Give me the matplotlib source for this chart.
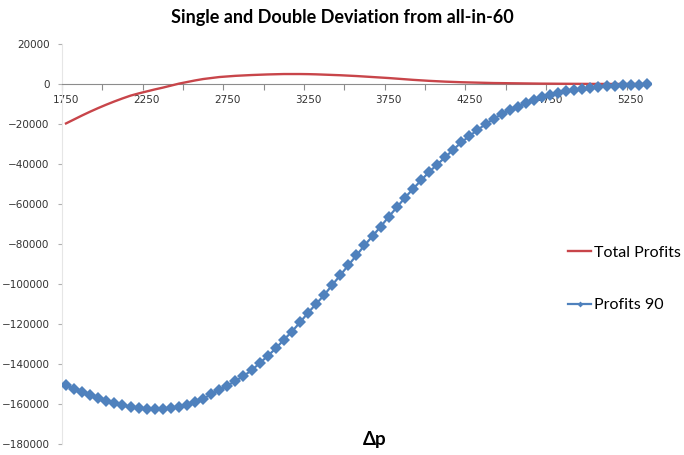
import numpy as np
import matplotlib
matplotlib.use('Agg')
import matplotlib.pyplot as plt
from matplotlib.ticker import FixedLocator

# delta p categories (step 50)
dp = np.arange(1750, 5351, 50)

total_profits = [-19700, -17700, -15700, -13800, -12000, -10300, -8700, -7200, -5800, -4700,
                 -3700, -2700, -1800, -800, 200, 1000, 1800, 2500, 3000, 3500,
                 3800, 4100, 4300, 4500, 4650, 4800, 4900, 5000, 5000, 5000,
                 4950, 4850, 4700, 4550, 4400, 4200, 4000, 3750, 3500, 3250,
                 3000, 2700, 2400, 2100, 1850, 1600, 1400, 1200, 1050, 900,
                 800, 700, 600, 500, 450, 400, 350, 300, 250, 200,
                 180, 150, 130, 110, 90, 70, 60, 50, 40, 30,
                 20, 10, 0]

profits_90 = [-150500, -152500, -154000, -155700, -157200, -158700, -159700, -160700, -161500, -162200,
              -162500, -162700, -162500, -162200, -161300, -160300, -159000, -157500, -155000, -153000,
              -150800, -148500, -146000, -143200, -139600, -136000, -132200, -127900, -123800, -119200,
              -114400, -110000, -105500, -100500, -95600, -90600, -85700, -80700, -76000, -71300,
              -66400, -61700, -56900, -52500, -48200, -44000, -40300, -36600, -32800, -29200,
              -26000, -23000, -20100, -17400, -15000, -13000, -11300, -9600, -7900, -6500,
              -5300, -4400, -3600, -2900, -2400, -1900, -1500, -1100, -800, -600,
              -400, -250, -150]

x_labels = [str(v) for v in range(1750, 5251, 500)]

red = '#C8454A'
blue = '#4F81BD'

fig = plt.figure(figsize=(6.84, 4.55), dpi=100)
ax = fig.add_axes([0.0906, 0.0242, 0.861, 0.879])

l1, = ax.plot(dp, total_profits, color=red, lw=1.7, zorder=3)
l2, = ax.plot(dp, profits_90, color=blue, lw=1.6, marker='D', ms=6,
              markeredgewidth=0, zorder=4)

ax.set_xlim(1725, 5375)
ax.set_ylim(-180000, 20000)

# category axis crosses at zero
ax.spines['bottom'].set_position(('data', 0))
ax.spines['bottom'].set_color('#8c8c8c')
ax.spines['bottom'].set_linewidth(0.8)
ax.spines['left'].set_color('#e6e6e6')
ax.spines['left'].set_linewidth(0.8)
ax.spines['top'].set_visible(False)
ax.spines['right'].set_visible(False)

ax.set_xticks(np.arange(1750, 5251, 500))
ax.set_xticklabels(x_labels)
ax.xaxis.set_minor_locator(FixedLocator(np.arange(1725, 5376, 250)))
ax.tick_params(axis='x', which='major', length=0, pad=8, labelsize=7.5, labelcolor='#333333')
ax.tick_params(axis='x', which='minor', length=4, width=0.8, color='#8c8c8c', direction='out')

ax.set_yticks(np.arange(-180000, 20001, 20000))
ax.tick_params(axis='y', length=3, width=0.8, color='#b0b0b0', pad=6,
               labelsize=7.5, labelcolor='#333333')

fig.text(342 / 684, 1 - 17 / 455, 'Single and Double Deviation from all-in-60',
         ha='center', va='center', fontsize=13, fontweight='bold', family='Lato')
fig.text(375 / 684, 1 - 439 / 455, 'Δp', ha='center', va='center',
         fontsize=13.5, fontweight='bold', family='Lato')

leg = fig.legend([l1, l2], ['Total Profits', 'Profits 90'], loc='center left',
                 bbox_to_anchor=(568 / 684, 1 - 279 / 455), frameon=False,
                 prop={'family': 'Lato', 'size': 11.5}, labelspacing=2.4,
                 handlelength=1.45, handletextpad=0.15, markerscale=0.5,
                 borderpad=0, borderaxespad=0)

fig.savefig('out.png', dpi=100)
